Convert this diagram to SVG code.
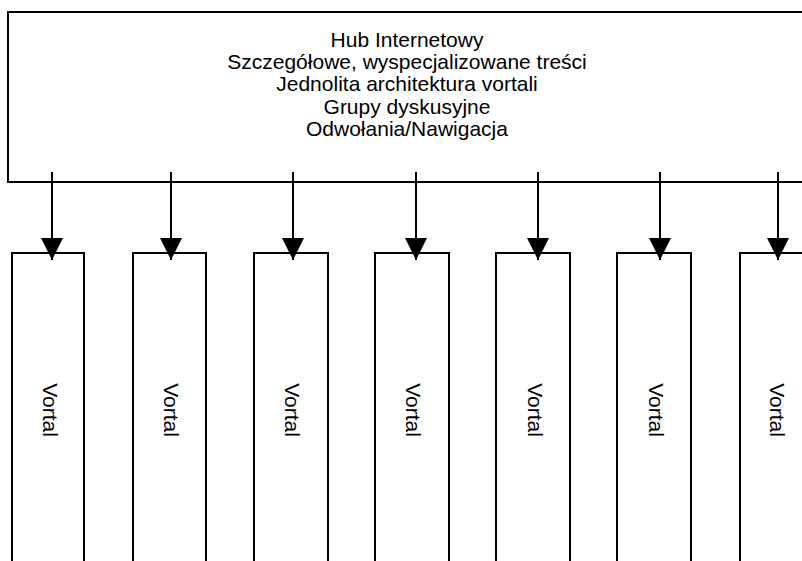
<svg xmlns="http://www.w3.org/2000/svg" width="802" height="561" viewBox="0 0 802 561">
<style>
.box{fill:#fff;stroke:#000;stroke-width:2}
.t{font-family:"Liberation Sans",Arial,sans-serif;font-size:21px;fill:#000;text-anchor:middle}
.c{stroke:#000;stroke-width:2;fill:none}
</style>
<defs>
<marker id="ah" markerUnits="userSpaceOnUse" markerWidth="22" markerHeight="22" viewBox="0 0 20 20" refX="20" refY="10" orient="auto">
<path d="M0,0 L20,10 L0,20 Z" fill="#000"/>
</marker>
</defs>
<rect width="802" height="561" fill="#fff"/>
<g id="hub">
<rect class="box" x="8" y="12" width="820" height="170"/>
<text class="t" x="407" y="47">Hub Internetowy</text>
<text class="t" x="407" y="69">Szczegółowe, wyspecjalizowane treści</text>
<text class="t" x="407" y="91">Jednolita architektura vortali</text>
<text class="t" x="407" y="114">Grupy dyskusyjne</text>
<text class="t" x="407" y="136">Odwołania/Nawigacja</text>
</g>
<g id="vortal1"><rect class="box" x="12" y="253" width="72" height="330"/><text class="t" transform="translate(50,410) rotate(90)" y="7">Vortal</text></g>
<g id="vortal2"><rect class="box" x="133" y="253" width="73" height="330"/><text class="t" transform="translate(171,410) rotate(90)" y="7">Vortal</text></g>
<g id="vortal3"><rect class="box" x="254" y="253" width="74" height="330"/><text class="t" transform="translate(292,410) rotate(90)" y="7">Vortal</text></g>
<g id="vortal4"><rect class="box" x="375" y="253" width="74" height="330"/><text class="t" transform="translate(413,410) rotate(90)" y="7">Vortal</text></g>
<g id="vortal5"><rect class="box" x="496" y="253" width="74" height="330"/><text class="t" transform="translate(535,410) rotate(90)" y="7">Vortal</text></g>
<g id="vortal6"><rect class="box" x="617" y="253" width="74" height="330"/><text class="t" transform="translate(656,410) rotate(90)" y="7">Vortal</text></g>
<g id="vortal7"><rect class="box" x="740" y="253" width="74" height="330"/><text class="t" transform="translate(777,410) rotate(90)" y="7">Vortal</text></g>
<g id="connectors">
<line class="c" x1="52" y1="172" x2="52" y2="260" marker-end="url(#ah)"/>
<line class="c" x1="171" y1="172" x2="171" y2="260" marker-end="url(#ah)"/>
<line class="c" x1="293" y1="172" x2="293" y2="260" marker-end="url(#ah)"/>
<line class="c" x1="416" y1="172" x2="416" y2="260" marker-end="url(#ah)"/>
<line class="c" x1="538" y1="172" x2="538" y2="260" marker-end="url(#ah)"/>
<line class="c" x1="660" y1="172" x2="660" y2="260" marker-end="url(#ah)"/>
<line class="c" x1="778" y1="172" x2="778" y2="260" marker-end="url(#ah)"/>
</g>
</svg>
